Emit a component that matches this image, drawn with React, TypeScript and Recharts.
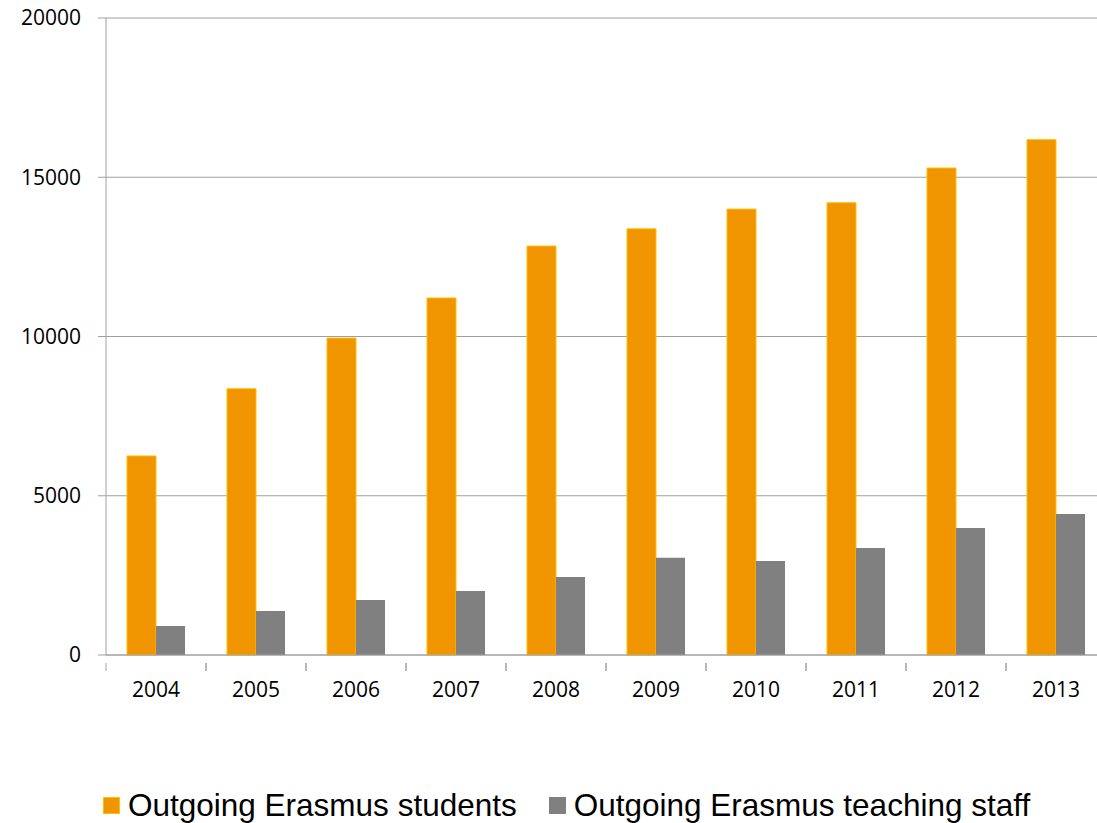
import { Bar, BarChart, CartesianGrid, Legend, XAxis, YAxis } from "recharts";

const years = ["2004", "2005", "2006", "2007", "2008", "2009", "2010", "2011", "2012", "2013"];
const students = [6250, 8360, 9950, 11210, 12840, 13380, 14000, 14200, 15290, 16180];
const staff = [910, 1380, 1730, 2010, 2450, 3050, 2950, 3360, 3990, 4430];
const yTicks = [0, 5000, 10000, 15000, 20000];

const ORANGE = "#F09400";
const ORANGE_EDGE = "#FFC000";
const GREY = "#808080";
const AXIS = "#A0A0A0";

const data = years.map((year, i) => ({ year, students: students[i], staff: staff[i] }));

const seriesNames = [
  { key: "students", label: "Outgoing Erasmus students", color: ORANGE },
  { key: "staff", label: "Outgoing Erasmus teaching staff", color: GREY },
];

// Excel draws the category ticks between the bars, not under them
const YearTick = (props: any) => {
  const { x, y, payload } = props;
  const half = payload.offset ?? 50;
  return (
    <g>
      <line x1={x - half} y1={y} x2={x - half} y2={y + 8} stroke={AXIS} />
      <line x1={x + half} y1={y} x2={x + half} y2={y + 8} stroke={AXIS} />
      <text x={x} y={y + 34} textAnchor="middle" fill="#000" fontSize={21} fontFamily="'Open Sans', sans-serif">
        {payload.value}
      </text>
    </g>
  );
};

const LegendBox = () => (
  <div
    style={{
      height: 40,
      display: "flex",
      alignItems: "center",
      justifyContent: "flex-start",
      fontFamily: "'Liberation Sans', Arial, sans-serif",
      fontSize: 31.5,
      color: "#000",
      paddingLeft: 103,
    }}
  >
    {seriesNames.map((s, i) => (
      <span key={s.key} style={{ display: "flex", alignItems: "center", marginLeft: i ? 32 : 0 }}>
        <span
          style={{
            display: "inline-block",
            width: 17,
            height: 17,
            background: s.color,
            border: s.key === "students" ? `1px solid ${ORANGE_EDGE}` : "none",
            boxSizing: "border-box",
            marginRight: 8,
          }}
        />
        {s.label}
      </span>
    ))}
  </div>
);

export default function App() {
  return (
    <div style={{ position: "absolute", left: 0, top: 0, width: 1097, height: 823, overflow: "hidden", background: "#fff" }}>
      <BarChart
        width={1110}
        height={823}
        data={data}
        barCategoryGap="21%"
        barGap={0}
        margin={{ top: 18, right: 4, bottom: 68, left: 1 }}
      >
        <CartesianGrid stroke={AXIS} vertical={false} />
        <XAxis
          dataKey="year"
          axisLine={{ stroke: AXIS }}
          tickLine={false}
          tick={<YearTick />}
          height={60}
          interval={0}
        />
        <YAxis
          domain={[0, 20000]}
          ticks={yTicks}
          width={105}
          axisLine={{ stroke: AXIS }}
          tickLine={{ stroke: AXIS }}
          tickSize={8}
          tickMargin={17}
          tick={{ fontSize: 21, fill: "#000", fontFamily: "'Open Sans', sans-serif" }}
        />
        <Legend
          verticalAlign="bottom"
          content={<LegendBox />}
          wrapperStyle={{ left: 0, bottom: -2, width: 1097 }}
        />
        <Bar dataKey="students" name="Outgoing Erasmus students" fill={ORANGE} stroke={ORANGE_EDGE} strokeWidth={1} isAnimationActive={false} />
        <Bar dataKey="staff" name="Outgoing Erasmus teaching staff" fill={GREY} isAnimationActive={false} />
      </BarChart>
    </div>
  );
}
